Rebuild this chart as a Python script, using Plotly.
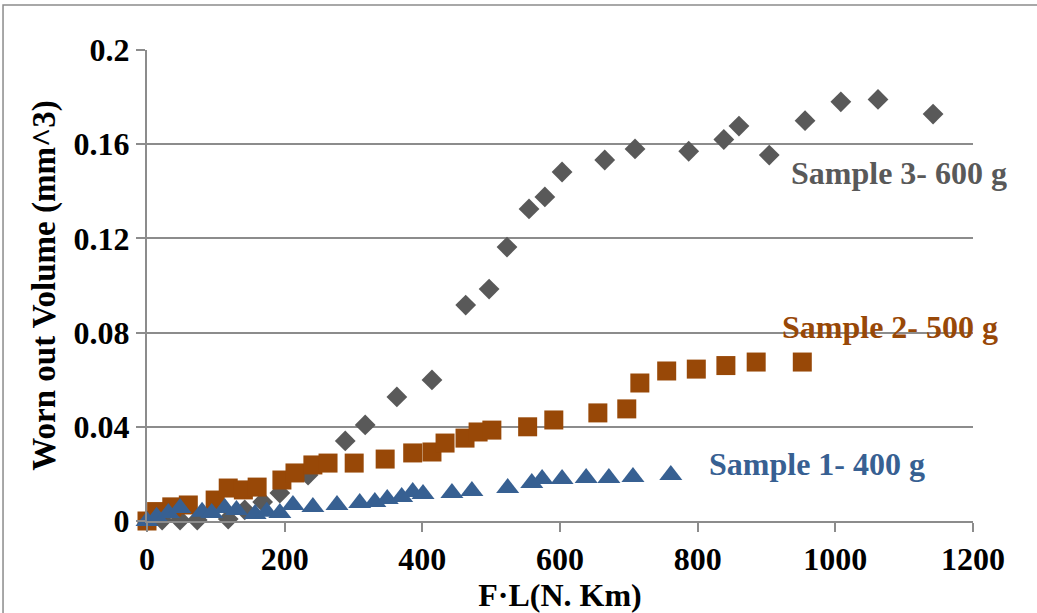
import plotly.graph_objects as go

# ---- data ----
s3_x = [0, 22, 48, 73, 118, 142, 168, 193, 234, 288, 317, 363, 414, 463, 497, 523, 555, 578, 603, 665, 709, 787, 838, 860, 904, 956, 1008, 1062, 1142]
s3_y = [0.0, 0.0004, 0.0004, 0.0004, 0.0008, 0.0047, 0.0081, 0.0119, 0.0195, 0.034, 0.0408, 0.0527, 0.0599, 0.0917, 0.0985, 0.1163, 0.1325, 0.1376, 0.1482, 0.1533, 0.158, 0.157, 0.162, 0.1677, 0.1554, 0.170, 0.178, 0.179, 0.1728]

s2_x = [0, 14, 36, 60, 99, 118, 140, 160, 196, 215, 241, 263, 301, 346, 386, 414, 433, 462, 481, 501, 553, 591, 655, 697, 716, 755, 798, 841, 885, 952]
s2_y = [0.0, 0.004, 0.006, 0.0068, 0.0089, 0.014, 0.0132, 0.0144, 0.0174, 0.0204, 0.0238, 0.0246, 0.0246, 0.0263, 0.0289, 0.0293, 0.0331, 0.0352, 0.0378, 0.0386, 0.040, 0.0429, 0.0459, 0.0476, 0.0586, 0.0637, 0.0645, 0.066, 0.0675, 0.0675]

s1_x = [0, 14, 31, 48, 80, 94, 113, 130, 157, 174, 193, 212, 241, 276, 309, 331, 349, 370, 386, 401, 443, 472, 524, 559, 574, 603, 638, 671, 706, 761]
s1_y = [0.0, 0.0018, 0.0034, 0.0055, 0.0039, 0.0034, 0.0055, 0.0047, 0.003, 0.0039, 0.0034, 0.0068, 0.0059, 0.0068, 0.0076, 0.0081, 0.0093, 0.0102, 0.0123, 0.0115, 0.0119, 0.0127, 0.014, 0.0161, 0.0178, 0.0178, 0.0183, 0.0183, 0.0187, 0.0195]

series_names = ["Sample 3- 600 g", "Sample 2- 500 g", "Sample 1- 400 g"]
x_ticks = [0, 200, 400, 600, 800, 1000, 1200]
y_ticks = [0, 0.04, 0.08, 0.12, 0.16, 0.2]
y_tick_text = ["0", "0.04", "0.08", "0.12", "0.16", "0.2"]

# ---- styles ----
C3, C2, C1 = "#595959", "#984807", "#376092"
GRID = "#8c8c8c"
FONT = "Liberation Serif"

fig = go.Figure()
fig.add_trace(go.Scatter(x=s3_x, y=s3_y, mode="markers", name=series_names[0],
                         marker=dict(symbol="diamond", size=16, color=C3), cliponaxis=False))
fig.add_trace(go.Scatter(x=s2_x, y=s2_y, mode="markers", name=series_names[1],
                         marker=dict(symbol="square", size=19, color=C2), cliponaxis=False))
fig.add_trace(go.Scatter(x=s1_x, y=s1_y, mode="markers", name=series_names[2],
                         marker=dict(symbol="triangle-up", size=20, color=C1), cliponaxis=False))

label_pos = [(0.910, 0.739, C3), (0.900, 0.412, C2), (0.811, 0.121, C1)]
for name, (px, py, col) in zip(series_names, label_pos):
    fig.add_annotation(x=px, y=py, xref="paper", yref="paper", text=name, showarrow=False,
                       font=dict(family=FONT, size=32, color=col, weight="bold"),
                       xanchor="center", yanchor="middle")

fig.update_layout(
    width=1037, height=613,
    margin=dict(l=147, r=64, t=50, b=92),
    paper_bgcolor="white", plot_bgcolor="white",
    showlegend=False,
    font=dict(family=FONT, size=30, color="black", weight="bold"),
    shapes=[dict(type="rect", xref="paper", yref="paper",
                 x0=-0.1743, x1=1.2, y0=-0.3, y1=1.0955,
                 line=dict(color="#8c8c8c", width=1.5), layer="below")],
)
fig.update_xaxes(range=[0, 1200], tickvals=x_ticks, showgrid=False, zeroline=False,
                 showline=True, linecolor=GRID, linewidth=2,
                 ticks="outside", ticklen=9, tickcolor=GRID, tickwidth=2,
                 tickfont=dict(family=FONT, size=32, color="black", weight="bold"),
                 title=dict(text="F·L(N. Km)", standoff=2,
                            font=dict(family=FONT, size=32, color="black", weight="bold")))
fig.update_yaxes(range=[0, 0.2], tickvals=y_ticks, ticktext=y_tick_text,
                 showgrid=True, gridcolor=GRID, gridwidth=2, zeroline=False,
                 showline=True, linecolor=GRID, linewidth=2,
                 ticks="outside", ticklen=9, tickcolor=GRID, tickwidth=2,
                 tickfont=dict(family=FONT, size=32, color="black", weight="bold"),
                 title=dict(text="Worn out Volume (mm^3)", standoff=8,
                            font=dict(family=FONT, size=33, color="black", weight="bold")))

fig.write_html("out.html")
